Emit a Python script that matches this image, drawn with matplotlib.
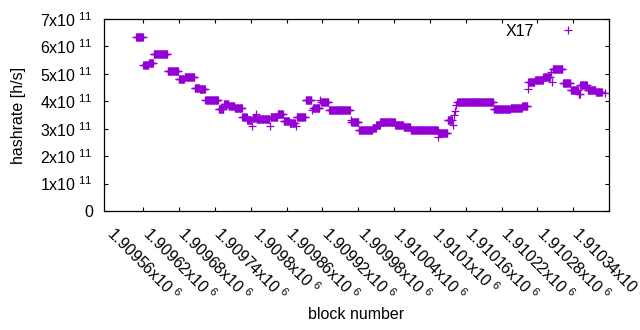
import numpy as np
import matplotlib
matplotlib.use("Agg")
import matplotlib.pyplot as plt

plt.rcParams['font.family'] = ['Liberation Sans', 'DejaVu Sans']
plt.rcParams['mathtext.fontset'] = 'custom'
plt.rcParams['mathtext.rm'] = 'Liberation Sans'
plt.rcParams['mathtext.default'] = 'regular'

# hashrate is constant between difficulty updates: (first block, last block, hashrate in 1e11 h/s)
seg_start = [1909548, 1909560, 1909569, 1909577, 1909601, 1909619, 1909629, 1909646, 1909654,
             1909664, 1909686, 1909695, 1909703, 1909713, 1909726, 1909734, 1909742, 1909743,
             1909749, 1909750, 1909772, 1909773, 1909785, 1909795, 1909805, 1909816, 1909817,
             1909832, 1909843, 1909844, 1909856, 1909858, 1909871, 1909907, 1909908, 1909921,
             1909944, 1909950, 1909957, 1909982, 1909996, 1910008, 1910036, 1910054, 1910055,
             1910070, 1910078, 1910080, 1910082, 1910084, 1910086, 1910147, 1910175, 1910195,
             1910204, 1910205, 1910216, 1910230, 1910242, 1910244, 1910246, 1910263, 1910276,
             1910289, 1910292, 1910304, 1910318, 1910333]
seg_end = [1909559, 1909568, 1909576, 1909600, 1909618, 1909628, 1909645, 1909653, 1909663,
           1909685, 1909694, 1909702, 1909712, 1909725, 1909733, 1909741, 1909742, 1909748,
           1909749, 1909771, 1909772, 1909784, 1909794, 1909804, 1909814, 1909816, 1909831,
           1909841, 1909843, 1909855, 1909856, 1909870, 1909906, 1909907, 1909920, 1909943,
           1909949, 1909956, 1909981, 1909995, 1910007, 1910035, 1910053, 1910054, 1910069,
           1910077, 1910078, 1910080, 1910082, 1910084, 1910146, 1910174, 1910194, 1910203,
           1910204, 1910215, 1910229, 1910241, 1910242, 1910244, 1910262, 1910275, 1910288,
           1910291, 1910303, 1910317, 1910328, 1910333]
seg_rate = [6.33, 5.33, 5.38, 5.72, 5.10, 4.82, 4.87, 4.49, 4.44,
            4.03, 3.72, 3.90, 3.83, 3.74, 3.42, 3.33, 3.10, 3.40,
            3.53, 3.35, 3.10, 3.42, 3.55, 3.27, 3.20, 3.10, 3.42,
            4.03, 3.68, 3.75, 4.05, 3.98, 3.70, 3.30, 3.25, 2.95,
            3.02, 3.12, 3.25, 3.15, 3.05, 2.97, 2.95, 2.70, 2.85,
            3.30, 3.15, 3.50, 3.65, 3.85, 3.97, 3.72, 3.76, 3.82,
            4.45, 4.72, 4.77, 4.90, 5.05, 4.70, 5.18, 4.68, 4.41,
            4.28, 4.60, 4.42, 4.35, 4.30]

xticks = np.arange(1909560, 1910341, 60)
yticks = np.arange(0, 8e11, 1e11)

blocks = []
rates = []
for s, e, r in zip(seg_start, seg_end, seg_rate):
    for b in range(s, e + 1):
        blocks.append(b)
        rates.append(r * 1e11)

fig = plt.figure(figsize=(6.4, 3.3), dpi=100)
ax = fig.add_axes([104/640, 1 - 211/330, 505/640, 192/330])

ax.plot(blocks, rates, linestyle='none', marker='+', ms=5.5, mew=0.9,
        color='#9400d3', label='X17')

ax.set_xlim(1909494, 1910340)
ax.set_ylim(0, 7e11)

ax.set_xticks(xticks)
ax.set_xticklabels([f"{v/1e6:g}x10$^{{\\ 6}}$" for v in xticks],
                   rotation=-45, ha='center', va='top')
ax.set_yticks(yticks)
ax.set_yticklabels(["0" if v == 0 else f"{int(round(v/1e11))}x10$^{{\\ 11}}$" for v in yticks])

ax.tick_params(direction='in', length=3, width=0.8, top=True, right=True,
               labelsize=11.5, colors='black')
ax.tick_params(axis='x', pad=9)
ax.tick_params(axis='y', pad=8)
for sp in ax.spines.values():
    sp.set_linewidth(0.9)

ax.set_xlabel('block number', fontsize=11.5)
ax.xaxis.set_label_coords(0.5, -0.50)
ax.set_ylabel('hashrate [h/s]', fontsize=11.5)
ax.yaxis.set_label_coords(-0.155, 0.5)

ax.legend(loc='upper right', bbox_to_anchor=(0.95, 0.975), frameon=False,
          markerfirst=False, borderaxespad=0, borderpad=0, handlelength=2,
          handletextpad=1.1, fontsize=11.5)

fig.savefig('out.png', dpi=100)
